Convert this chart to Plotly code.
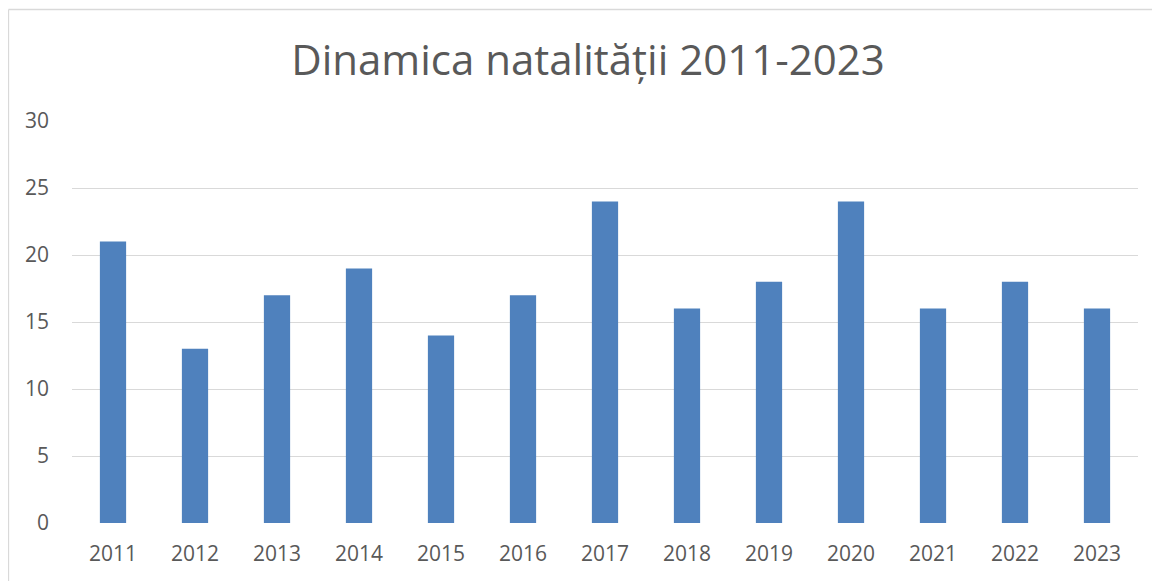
import plotly.graph_objects as go

years = ["2011", "2012", "2013", "2014", "2015", "2016", "2017", "2018", "2019", "2020", "2021", "2022", "2023"]
births = [21, 13, 17, 19, 14, 17, 24, 16, 18, 24, 16, 18, 16]
y_ticks = [0, 5, 10, 15, 20, 25, 30]

# page body has an 8px margin, so the figure is offset by 8px
OFF = 8
W, H = 1160 - OFF, 581 - OFF
L, R, T, B = 72 - OFF, 22, 121 - OFF, 58
pw, ph = W - L - R, H - T - B

fig = go.Figure(go.Bar(x=years, y=births, marker=dict(color="#4F81BD", line=dict(width=0))))

font = "Open Sans"
fig.update_layout(
    width=W, height=H,
    margin=dict(l=L, r=R, t=T, b=B, pad=0),
    paper_bgcolor="white", plot_bgcolor="white",
    bargap=0.68,
    showlegend=False,
    title=dict(text="Dinamica natalității 2011-2023", x=(588 - OFF) / W, xanchor="center",
               y=1 - (60 - OFF) / H, yanchor="middle",
               font=dict(family=font, size=42, color="#595959")),
    xaxis=dict(showgrid=False, showline=False, ticks="", zeroline=False,
               tickfont=dict(family=font, size=21, color="#595959"),
               ticklabelstandoff=16),
    yaxis=dict(range=[0, 30], tickvals=y_ticks, showgrid=True, gridcolor="#D9D9D9", gridwidth=1.3,
               zeroline=False, showline=False, ticks="",
               tickfont=dict(family=font, size=21, color="#595959"),
               ticklabelstandoff=22),
    shapes=[
        dict(type="line", xref="paper", yref="paper",
             x0=(0.5 - L) / pw, x1=(W + 10 - L) / pw,
             y0=(H - B - 1.5) / ph, y1=(H - B - 1.5) / ph,
             line=dict(color="#D9D9D9", width=1.3)),
        dict(type="line", xref="paper", yref="paper",
             x0=(0.5 - L) / pw, x1=(0.5 - L) / pw,
             y0=(H - B - 1.5) / ph, y1=-(B + 10) / ph,
             line=dict(color="#D9D9D9", width=1.3)),
    ],
)

fig.write_html("out.html")
